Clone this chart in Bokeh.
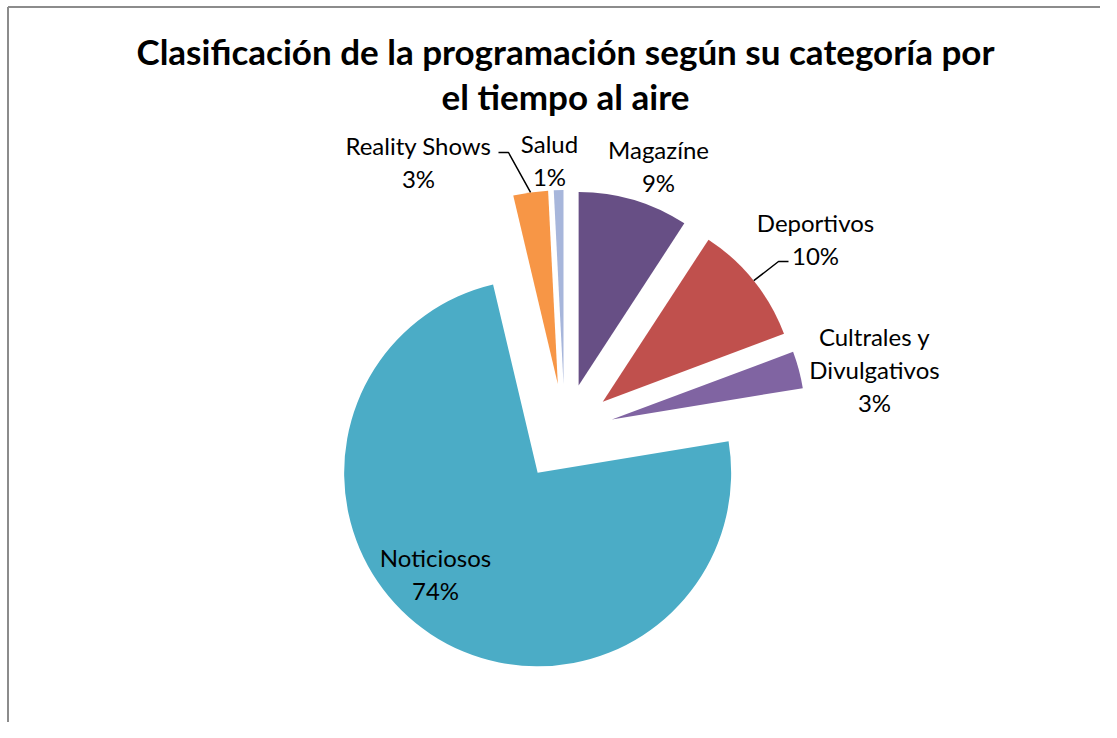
import math
from bokeh.plotting import figure
from bokeh.models import Range1d
from bokeh.core.properties import value
from bokeh.embed import file_html
from bokeh.resources import INLINE

# ---- data ----
categories = ["Magazíne", "Deportivos", "Cultrales y\nDivulgativos", "Noticiosos", "Reality Shows", "Salud"]
shares = [9.2, 10.1, 3.1, 73.9, 2.9, 0.8]
colors = ["#674F85", "#C0504D", "#8064A2", "#4BACC6", "#F79646", "#A7B6DB"]
title_lines = ["Clasificación de la programación según su categoría por", "el tiempo al aire"]

# ---- layout ----
W, H = 1100, 722
FONT = "Lato"

def px(x, y):
    """screen pixel -> data coords (y up)."""
    return x, H - y

p = figure(width=W, height=H, output_backend="svg", toolbar_location=None,
           x_range=Range1d(0, W), y_range=Range1d(0, H), min_border=0)
p.axis.visible = False
p.grid.visible = False
p.outline_line_color = None
p.background_fill_color = "white"

# chart-area frame (left and top edges visible)
p.segment(x0=[7.5, 7.5], y0=[0, H - 6.5], x1=[7.5, W], y1=[H - 6.5, H - 6.5],
          line_color="#8C8C8C", line_width=2)

cx, cy = px(564.2, 431.7)
R = 193.5
EXPL = 48.8

total = sum(shares)
cum = 0.0
tips, mids = [], []
for val, col in zip(shares, colors):
    a0 = cum / total * 360.0
    cum += val
    a1 = cum / total * 360.0
    mid = math.radians((a0 + a1) / 2)
    tx = cx + EXPL * math.sin(mid)
    ty = cy + EXPL * math.cos(mid)
    tips.append((tx, ty))
    mids.append(mid)
    p.wedge(x=[tx], y=[ty], radius=R,
            start_angle=[math.radians(90 - a0)], end_angle=[math.radians(90 - a1)],
            direction="clock", fill_color=col, line_color=None)

# ---- labels ----
label_pos = [(658, 149), (815, 222), (874, 336), (435, 557), (418, 145), (549, 143)]
LINE = 33
for cat, val, (lx, ly) in zip(categories, shares, label_pos):
    lines = cat.split("\n") + [f"{round(val / total * 100)}%"]
    for i, t in enumerate(lines):
        x, y = px(lx, ly + i * LINE)
        p.text(x=[x], y=[y], text=[t], text_font=value(FONT), text_font_size="24px",
               text_align="center", text_baseline="middle", text_color="black")

# leader lines (Deportivos, Reality Shows): from slice outer edge to label elbow
elbows = {1: [(778, 261), (788, 261)], 4: [(508, 152), (498, 152)]}
for idx, pts in elbows.items():
    tx, ty = tips[idx]
    sx = tx + R * math.sin(mids[idx])
    sy = ty + R * math.cos(mids[idx])
    xs = [sx] + [px(*q)[0] for q in pts]
    ys = [sy] + [px(*q)[1] for q in pts]
    p.line(x=xs, y=ys, line_color="black", line_width=1.5)

# ---- title ----
for i, t in enumerate(title_lines):
    x, y = px(565, 50 + i * 45)
    p.text(x=[x], y=[y], text=[t], text_font=value(FONT), text_font_size="35px",
           text_font_style="bold", text_align="center", text_baseline="middle",
           text_color="black")

open("out.html", "w").write(file_html(p, INLINE))
